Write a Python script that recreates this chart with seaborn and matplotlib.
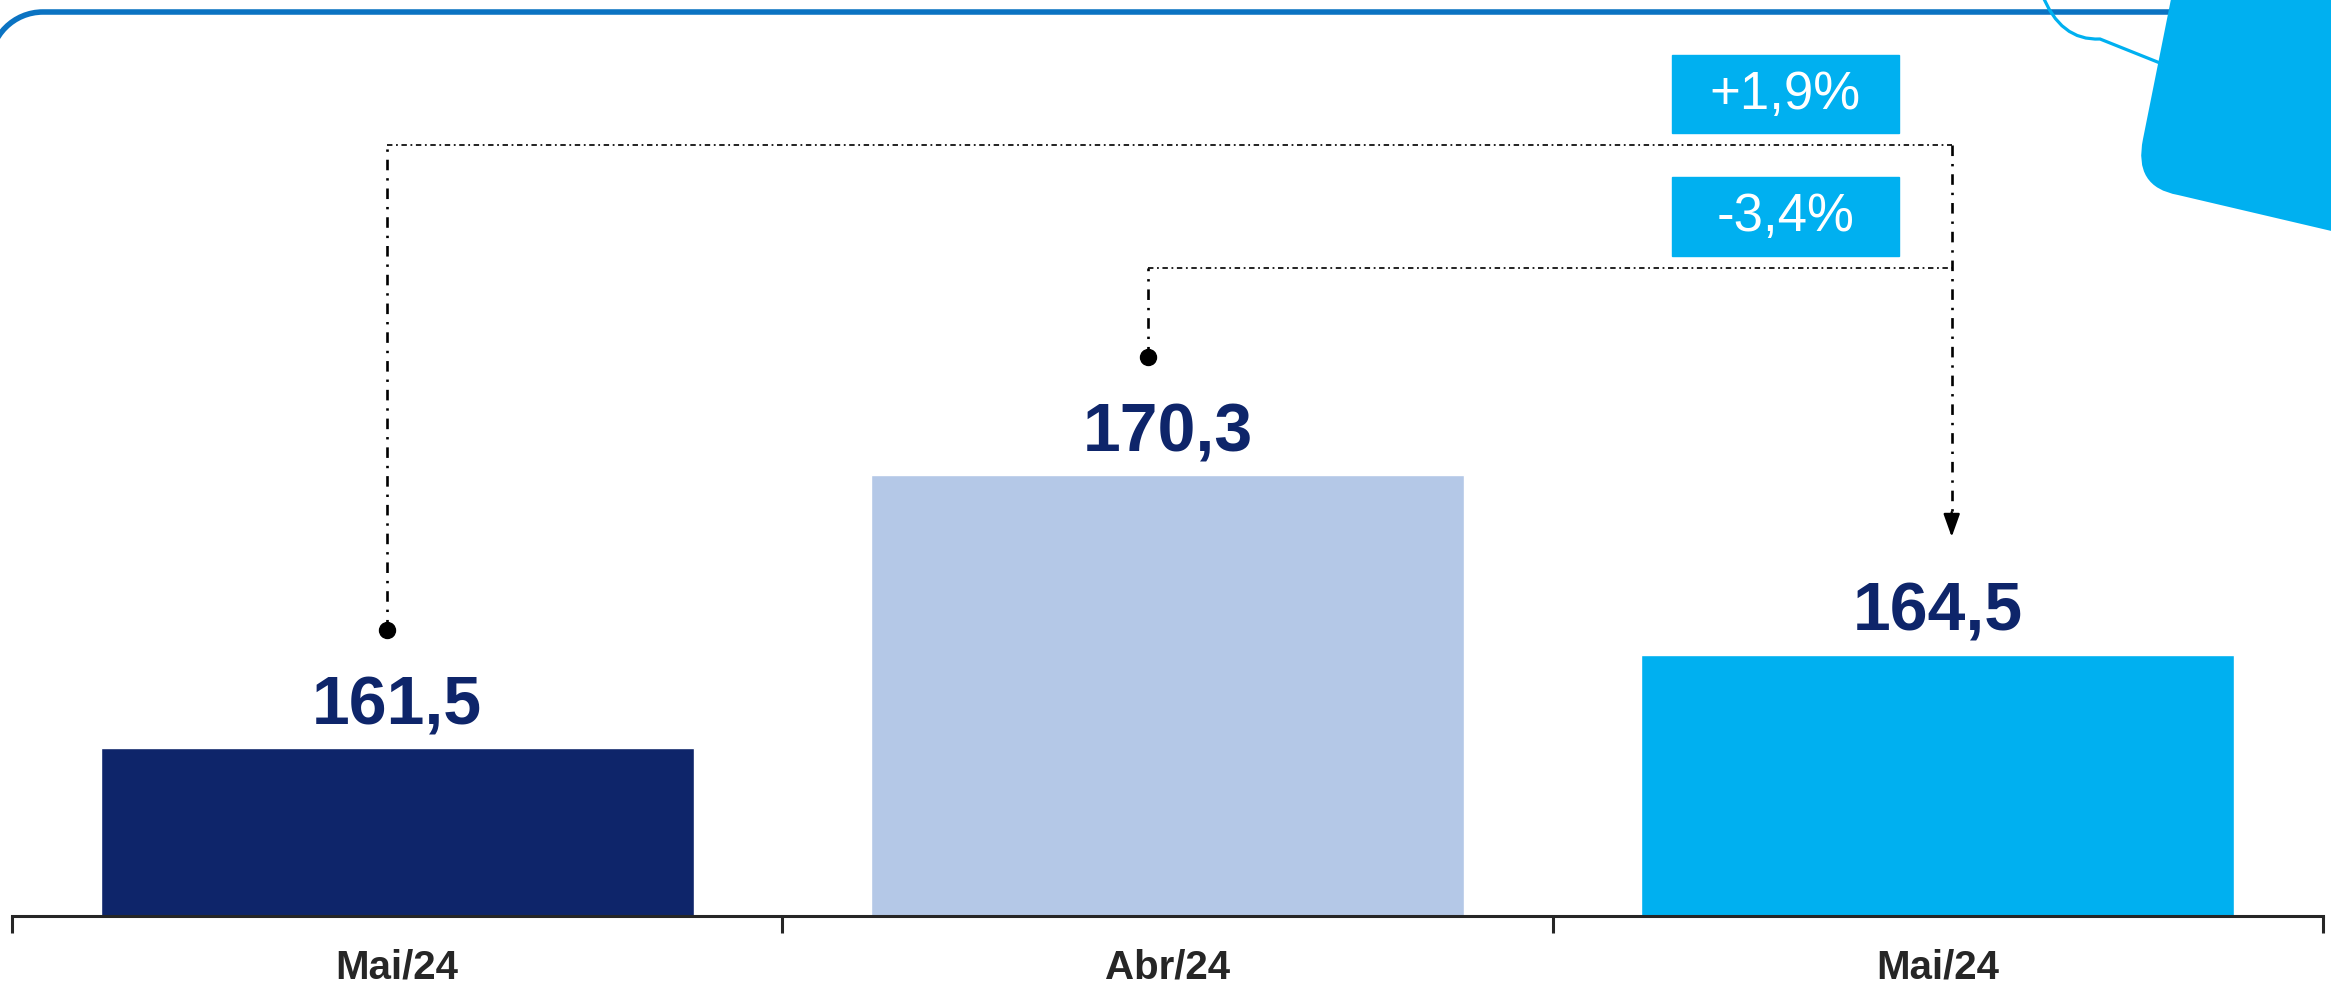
import numpy as np
import pandas as pd
import seaborn as sns
import matplotlib.pyplot as plt
from matplotlib.patches import PathPatch, Rectangle
from matplotlib.path import Path
from matplotlib.transforms import IdentityTransform

# data
labels = ['Mai/24', 'Abr/24', 'Mai/24']
values = [161.5, 170.3, 164.5]
changes = ['+1,9%', '-3,4%']
bar_colors = ['#0E256A', '#B4C8E7', '#00B0F0']

NAVY = '#0E256A'
CYAN = '#00B0F0'
FRAME = '#0B73C2'

sns.set_style('white')
plt.rcParams['font.family'] = ['Liberation Sans', 'DejaVu Sans']
narrow = ['Liberation Sans Narrow', 'Liberation Sans', 'DejaVu Sans']

df = pd.DataFrame({'key': ['a', 'b', 'c'], 'valor': values})

W, H = 2331, 995
fig = plt.figure(figsize=(W / 100, H / 100), dpi=100)
ax = fig.add_axes([12 / W, 78 / H, 2311 / W, 917 / H])
ax.patch.set_visible(False)

sns.barplot(data=df, x='key', y='valor', hue='key', palette=bar_colors,
            width=0.77, saturation=1, legend=False, ax=ax, zorder=2)

ax.set_xlim(-0.5, 2.5)
ax.set_ylim(156.08, 185.64)

# value labels above bars
for i, v in enumerate(values):
    ax.text(i, v + 0.8, f'{v:.1f}'.replace('.', ','), ha='center', va='baseline',
            fontsize=49, fontweight='bold', color=NAVY)

# axis styling
for s in ['left', 'right', 'top']:
    ax.spines[s].set_visible(False)
ax.spines['bottom'].set_color('#262626')
ax.spines['bottom'].set_linewidth(2.2)
ax.set_yticks([])
ax.set_xticks(range(3))
ax.set_xticklabels(labels, fontsize=29, fontweight='bold', color='#262626',
                   family=narrow)
ax.set_xticks([-0.5, 0.5, 1.5, 2.5], minor=True)
ax.tick_params(axis='x', which='major', bottom=False, length=0, pad=23)
ax.tick_params(axis='x', which='minor', bottom=True, length=12, width=2.2,
               color='#262626', direction='out')
ax.set_xlabel('')
ax.set_ylabel('')

# connector lines
vstyle = dict(color='black', lw=1.9, linestyle=(0, (4.0, 3.0, 0.9, 3.0)), zorder=3)
hstyle = dict(color='#111111', lw=1.3, linestyle=(0, (3.0, 2.0, 1.0, 2.0)), zorder=3)
rise = 3.8
x1, x2, xa = -0.013, 0.975, 2.018
top1, top2 = 180.93, 176.97
tip = values[2] + rise

ax.plot([x1, x1], [values[0] + rise, top1], **vstyle)
ax.plot([x1, xa], [top1, top1], **hstyle)
ax.plot([x2, x2], [values[1] + rise, top2], **vstyle)
ax.plot([x2, xa], [top2, top2], **hstyle)
ax.plot([xa, xa], [top1, tip + 0.5], **vstyle)
ax.plot([x1, x2], [values[0] + rise, values[1] + rise], 'o', color='black',
        ms=11.5, zorder=4, linestyle='none')
ax.annotate('', xy=(xa, tip), xytext=(xa, tip + 0.8),
            arrowprops=dict(arrowstyle='-|>,head_length=1.4,head_width=0.5',
                            color='black', lw=1.7, shrinkA=0, shrinkB=0),
            zorder=4)

# percentage boxes
bx, bw, bh = 1.802, 0.295, 2.52
for lvl, txt in zip([top1, top2], changes):
    cy = lvl + 1.66
    ax.add_patch(Rectangle((bx - bw / 2, cy - bh / 2), bw, bh, color=CYAN,
                           zorder=3, clip_on=False))
    ax.text(bx, cy, txt, ha='center', va='center', fontsize=38, color='white',
            family=narrow, zorder=4)

# decorations in pixel coordinates
R, k = 53, 0.5523 * 53
frame = Path([(-10, H - 250), (-10, H - 66), (-10, H - 66 + k), (43 - k, H - 13),
              (43, H - 13), (2250, H - 13)],
             [Path.MOVETO, Path.LINETO, Path.CURVE4, Path.CURVE4, Path.CURVE4,
              Path.LINETO])
fig.add_artist(PathPatch(frame, fill=False, edgecolor=FRAME, lw=4.0,
                         transform=IdentityTransform(), zorder=5))

curve = Path([(2042, H + 5), (2060, H - 42), (2100, H - 40), (2200, H - 80)],
             [Path.MOVETO, Path.CURVE3, Path.CURVE3, Path.LINETO])
fig.add_artist(PathPatch(curve, fill=False, edgecolor=CYAN, lw=2.3,
                         transform=IdentityTransform(), zorder=6))

shape = Path([(2173, H + 10), (2143, H - 140), (2133, H - 188), (2178, H - 196),
              (2340, H - 234), (2340, H + 10), (2173, H + 10)],
             [Path.MOVETO, Path.LINETO, Path.CURVE3, Path.CURVE3,
              Path.LINETO, Path.LINETO, Path.CLOSEPOLY])
fig.add_artist(PathPatch(shape, facecolor=CYAN, edgecolor='none',
                         transform=IdentityTransform(), zorder=7))

fig.savefig('out.png', dpi=100)
